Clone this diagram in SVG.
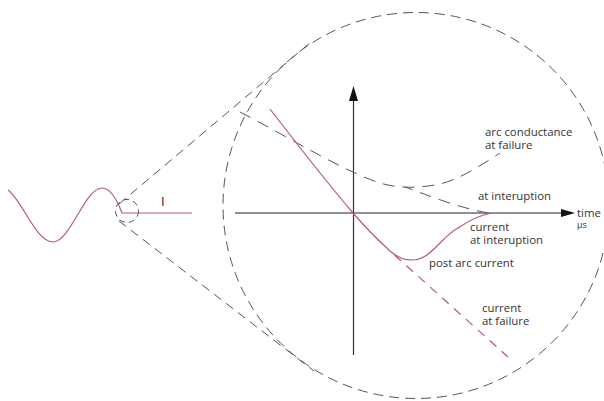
<svg xmlns="http://www.w3.org/2000/svg" width="604" height="401" viewBox="0 0 604 401">
<style>
.lbl{font-family:"Open Sans","Liberation Sans",sans-serif;font-size:11.4px;fill:#333}
.dash{fill:none;stroke:#555;stroke-width:1}
.red{fill:none;stroke:#b4597c;stroke-width:1.2}
</style>
<rect width="604" height="401" fill="#fff"/>
<g id="zoom-frame">
<circle cx="416" cy="205.5" r="193" class="dash" stroke-dasharray="10 6"/>
<circle cx="127" cy="211" r="11.5" class="dash" stroke-dasharray="6 4"/>
</g>
<g id="connectors">
<line x1="119" y1="204" x2="311" y2="42" class="dash" stroke-dasharray="9 6"/>
<line x1="119" y1="221" x2="314" y2="371" class="dash" stroke-dasharray="9 6"/>
</g>
<g id="waveform">
<path class="red" d="M8,190 C22,200 36,242 53,242 C70,242 85,188 102,188 C110,188 116,197 122,213 L192,213"/>
<text x="161" y="206" style="font-family:'Open Sans','Liberation Sans',sans-serif;font-size:13px;fill:#222">I</text>
</g>
<g id="axes">
<line x1="235" y1="213" x2="562" y2="213" stroke="#6b6b6b" stroke-width="1.6"/>
<polygon points="575,213 561,209 561,217" fill="#111"/>
<line x1="353.5" y1="100" x2="353.5" y2="355" stroke="#333" stroke-width="1.2"/>
<polygon points="353.5,86 349,101 358,101" fill="#111"/>
<text class="lbl" x="577" y="217">time<tspan x="577" dy="11" style="font-size:9px">μs</tspan></text>
</g>
<g id="conductance">
<path class="dash" stroke-dasharray="12 8" d="M240,112 C290,138 345,172 380,183 C400,189 420,188 440,184 C460,179 480,166 500,153"/>
<path class="dash" stroke-dasharray="12 8" stroke-dashoffset="4" d="M405,187 C425,194 455,207 488,213"/>
<text class="lbl" x="485" y="136">arc conductance<tspan x="485" dy="12.5">at failure</tspan></text>
<text class="lbl" x="478" y="200">at interuption</text>
</g>
<g id="current">
<path class="red" d="M270,109 C300,148 330,186 353,213 C365,227 378,240 390,251 C400,259 405,260 412,260 C424,260 432,251 440,243 C447,236 452,231 458,228 C470,220 480,215 490,213.5"/>
<path class="red" stroke-dasharray="9 7" stroke-dashoffset="-6" d="M390,251 L508,357"/>
<text class="lbl" x="470" y="231">current<tspan x="470" dy="12.5">at interuption</tspan></text>
<text class="lbl" x="429" y="267">post arc current</text>
<text class="lbl" x="482" y="312">current<tspan x="482" dy="12.5">at failure</tspan></text>
</g>
</svg>
